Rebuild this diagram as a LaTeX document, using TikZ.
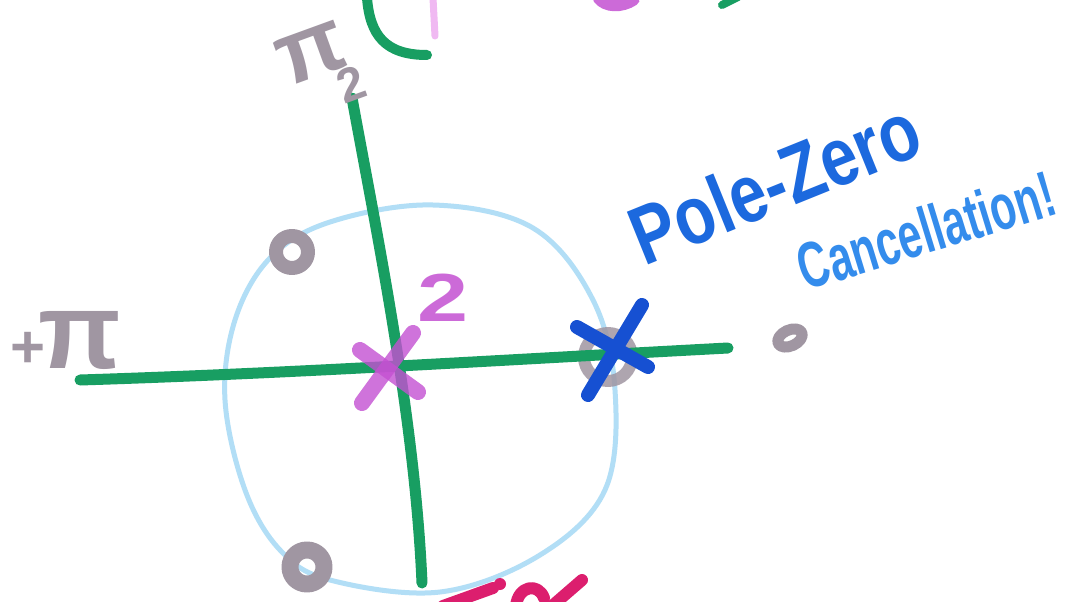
\documentclass[tikz,border=0pt]{standalone}
\usepackage{fontspec}
\setmainfont{Liberation Sans}
\definecolor{axgreen}{RGB}{24,158,98}
\definecolor{ucblue}{RGB}{178,222,246}
\definecolor{zgray}{RGB}{160,150,162}
\definecolor{pmag}{RGB}{196,80,210}
\definecolor{xblue}{RGB}{22,80,210}
\definecolor{tblue}{RGB}{28,105,222}
\definecolor{tblue2}{RGB}{52,140,236}
\definecolor{crim}{RGB}{220,30,110}
\definecolor{lpink}{RGB}{240,185,242}
\tikzset{
  unitc/.style={draw=ucblue, line width=5pt},
  axisline/.style={draw=axgreen, line width=11pt},
  zeroring/.style={draw=zgray, line width=14pt},
  polex/.style={draw=pmag, line width=16pt, opacity=0.8},
  bluex/.style={draw=xblue, line width=14pt},
  graylbl/.style={text=zgray, inner sep=0pt},
  crimstroke/.style={draw=crim, line width=12pt},
}
\begin{document}
\begin{tikzpicture}[x=1pt, y=-1pt, line cap=round, line join=round]
\useasboundingbox (0,0) rectangle (1074,602);
\clip (0,0) rectangle (1074,602);
\fill[white] (0,0) rectangle (1074,602);

% unit circle
\draw[unitc] plot[smooth cycle, tension=0.6] coordinates {
  (433,205) (533,228) (593,300) (615,390) (605,490) (540,555)
  (440,592) (330,580) (280,550) (245,490) (225,400) (235,320)
  (270,258) (330,222)};

% zeros
\draw[zeroring] (292,252) circle[radius=16];
\draw[zeroring, line width=17pt] (307,567) circle[radius=17];
\draw[zeroring, line width=12pt, opacity=0.85] (608,357) circle[radius=24];
\draw[zeroring, line width=11pt, rotate around={25:(790,338)}] (790,338) ellipse[x radius=13, y radius=8];

% axes
\draw[axisline] (80,380) .. controls (300,373) and (500,360) .. (728,348);
\draw[axisline] (352,98) .. controls (378,240) and (415,420) .. (422,583);

% double pole at origin
\draw[polex] (360,350) -- (418,392);
\draw[polex] (413,333) -- (362,403);
\node[text=pmag, opacity=0.85, font=\bfseries\fontsize{68}{68}\selectfont, inner sep=0pt] (two) at (443,298) {\scalebox{1.35}[1]{2}};

% pole on the unit circle
\draw[bluex] (577,327) -- (648,367);
\draw[bluex] (642,305) -- (588,395);

% labels
\node[text=tblue, rotate=22, font=\bfseries\fontsize{66}{66}\selectfont, inner sep=0pt] (pz) at (775,182) {\scalebox{1}[1.25]{Pole-Zero}};
\node[text=tblue2, rotate=17, font=\bfseries\fontsize{48}{48}\selectfont, inner sep=0pt] (canc) at (926,230) {\scalebox{0.88}[1.35]{Cancellation!}};

\node[graylbl, rotate=20, font=\bfseries\fontsize{90}{90}\selectfont] (pitop) at (312,54) {π};
\node[graylbl, rotate=20, font=\bfseries\fontsize{48}{48}\selectfont] (twotop) at (351,84) {2};
\node[graylbl, font=\bfseries\fontsize{60}{60}\selectfont] (plus) at (28,350) {+};
\node[graylbl, font=\bfseries\fontsize{108}{108}\selectfont] (pileft) at (80,340) {π};

% fragments at the top edge
\draw[draw=axgreen, line width=10pt] (367,-2) .. controls (370,35) and (385,55) .. (427,55);
\draw[draw=lpink, line width=7pt] (433,-2) -- (435,36);
\draw[draw=pmag, line width=11pt, opacity=0.85] (598,-2) .. controls (605,8) and (622,8) .. (634,0);
\draw[draw=axgreen, line width=8pt] (722,5) -- (738,-3);

% fragments at the bottom edge
\draw[crimstroke] (443,606) -- (493,588);
\fill[crim] (500,584) circle[radius=6];
\draw[crimstroke] (516,606) .. controls (518,586) and (538,582) .. (544,598);
\draw[crimstroke] (552,606) -- (582,580);
\end{tikzpicture}
\end{document}
